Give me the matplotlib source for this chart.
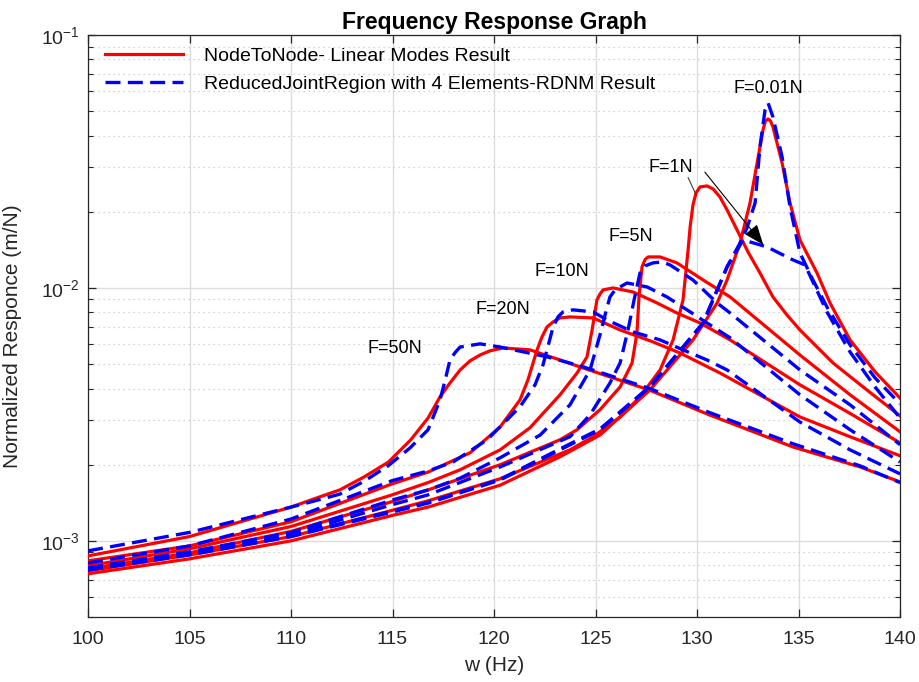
import numpy as np
import matplotlib
matplotlib.use("Agg")
import matplotlib.pyplot as plt
from matplotlib.ticker import LogLocator, NullFormatter, FixedLocator

plt.rcParams['font.family'] = ['Liberation Sans', 'DejaVu Sans']

# Frequency response curves, frequency in Hz, response in 1e-3 m/N
# ---- NodeToNode (linear modes) ----
red_f50_w = [100.0, 105.0, 110.0, 111.18, 112.4, 113.6, 114.8, 115.9, 116.75, 117.34, 117.83,
             118.33, 118.82, 119.31, 119.8, 120.44, 121.77, 123.25, 124.24, 127.64, 130.6,
             134.73, 138.03, 140.0]
red_f50_r = [0.872, 1.04, 1.36, 1.47, 1.59, 1.79, 2.05, 2.51, 3.06, 3.71, 4.21,
             4.74, 5.15, 5.43, 5.64, 5.79, 5.69, 5.19, 4.87, 3.95, 3.15,
             2.35, 1.96, 1.71]

red_f20_w = [100.0, 105.0, 110.0, 114.98, 116.75, 118.82, 120.3, 121.28, 121.67, 122.12,
             122.36, 122.61, 122.91, 123.25, 123.74, 124.88, 126.21, 127.83, 129.16, 131.13,
             135.07, 137.54, 140.0]
red_f20_r = [0.834, 0.955, 1.19, 1.68, 1.87, 2.23, 2.82, 3.61, 4.33, 5.69,
             6.40, 7.01, 7.34, 7.61, 7.68, 7.61, 6.82, 6.12, 5.53, 4.61,
             3.09, 2.58, 2.17]

red_f10_w = [100.0, 105.0, 110.0, 114.98, 116.75, 118.33, 120.3, 121.77, 123.25, 124.09, 124.58,
             124.83, 125.07, 125.22, 125.37, 125.86, 126.85, 128.03, 129.01, 130.15, 131.63,
             135.07, 137.54, 140.0]
red_f10_r = [0.797, 0.930, 1.14, 1.52, 1.70, 1.91, 2.29, 2.80, 3.78, 4.61, 5.34,
             6.82, 8.97, 9.46, 9.82, 10.0, 9.64, 8.72, 7.96, 7.27, 6.23,
             4.14, 3.19, 2.44]

red_f5_w = [100.0, 105.0, 110.0, 114.98, 116.75, 120.3, 123.25, 124.09, 125.22, 126.21, 126.8,
            127.04, 127.14, 127.29, 127.44, 127.59, 128.18, 129.01, 130.3, 131.63, 135.07,
            137.54, 140.0]
red_f5_r = [0.775, 0.897, 1.09, 1.43, 1.59, 2.00, 2.51, 2.75, 3.30, 4.06, 5.05,
            6.64, 9.21, 12.11, 12.95, 13.26, 13.26, 12.56, 10.75, 9.21, 5.43,
            3.78, 2.70]

red_f1_w = [100.0, 105.0, 110.0, 114.98, 116.75, 120.3, 123.74, 124.88, 126.21, 127.19, 128.18,
            128.82, 129.31, 129.56, 129.66, 129.8, 129.95, 130.15, 130.49, 130.79, 131.13,
            131.48, 131.97, 132.51, 133.1, 133.74, 134.43, 135.07, 136.7, 138.37, 140.0]
red_f1_r = [0.761, 0.880, 1.04, 1.32, 1.44, 1.76, 2.29, 2.58, 3.09, 3.71, 4.74,
            6.23, 8.97, 14.14, 17.42, 21.29, 23.74, 25.08, 25.31, 24.62, 22.88,
            20.34, 16.96, 13.88, 11.46, 9.21, 7.82, 6.82, 5.05, 3.95, 3.12]

red_f001_w = [100.0, 105.0, 110.0, 114.98, 116.75, 120.3, 123.25, 125.22, 127.68, 129.8, 130.99,
              131.48, 132.12, 132.61, 132.96, 133.25, 133.37, 133.5, 133.62, 133.74, 134.19,
              134.58, 135.07, 135.91, 136.55, 137.54, 138.77, 140.0]
red_f001_r = [0.741, 0.849, 1.00, 1.26, 1.36, 1.66, 2.15, 2.62, 3.95, 6.23, 8.72,
              10.75, 15.06, 21.68, 31.20, 42.12, 45.7, 46.56, 45.7, 43.29, 31.20,
              21.68, 15.48, 11.46, 8.72, 6.23, 4.66, 3.67]

# ---- ReducedJointRegion, 4 elements (RDNM) ----
blue_f50_w = [100.0, 105.0, 110.0, 111.18, 112.4, 113.6, 114.78, 115.86, 116.75, 117.34, 117.6,
              117.83, 118.08, 118.33, 119.31, 120.3, 122.61, 124.24, 127.68, 130.64, 134.73,
              138.03, 140.0]
blue_f50_r = [0.913, 1.08, 1.36, 1.44, 1.53, 1.72, 1.98, 2.33, 2.75, 3.61, 4.35,
              5.19, 5.55, 5.84, 6.01, 5.84, 5.34, 4.92, 4.0, 3.21, 2.42,
              1.98, 1.70]

blue_f20_w = [100.0, 105.0, 110.0, 114.98, 116.75, 117.98, 119.66, 121.28, 122.02, 122.41, 122.61,
              122.91, 123.15, 123.4, 123.89, 124.88, 125.57, 126.85, 128.18, 129.31, 130.49,
              131.48, 135.07, 137.54, 140.0]
blue_f20_r = [0.818, 0.955, 1.22, 1.73, 1.89, 2.05, 2.51, 3.39, 4.14, 4.96, 5.69,
              7.01, 7.68, 8.04, 8.19, 8.04, 7.47, 6.70, 6.23, 5.69, 5.19,
              4.74, 2.95, 2.29, 1.84]

blue_f10_w = [100.0, 105.0, 110.0, 114.98, 116.75, 118.33, 120.3, 122.27, 123.74, 124.73, 125.22,
              125.47, 125.71, 125.96, 126.21, 126.55, 127.54, 128.52, 129.66, 130.49, 131.63,
              135.07, 137.54, 140.0]
blue_f10_r = [0.782, 0.905, 1.08, 1.45, 1.59, 1.77, 2.13, 2.62, 3.45, 4.74, 6.52,
              7.82, 9.21, 9.82, 10.09, 10.46, 10.09, 9.21, 8.04, 7.27, 6.35,
              3.78, 2.75, 2.05]

blue_f5_w = [100.0, 105.0, 110.0, 114.98, 116.75, 120.3, 123.74, 124.73, 125.71, 126.21, 126.6,
             126.9, 127.19, 127.44, 127.83, 128.28, 128.67, 129.8, 130.99, 131.63, 135.07,
             137.54, 140.0]
blue_f5_r = [0.768, 0.889, 1.06, 1.39, 1.52, 1.96, 2.58, 3.15, 4.21, 5.05, 6.82,
             8.97, 11.46, 12.22, 12.56, 12.67, 12.33, 10.75, 8.72, 7.96, 4.74,
             3.45, 2.40]

blue_f1_w = [100.0, 105.0, 110.0, 114.98, 116.75, 120.3, 123.25, 125.22, 127.68, 130.3, 131.48,
             132.27, 133.45, 134.73, 135.32, 135.71, 136.4, 137.54, 138.77, 140.0]
blue_f1_r = [0.775, 0.889, 1.05, 1.31, 1.42, 1.75, 2.31, 2.77, 4.08, 7.27, 12.11,
             15.48, 14.52, 12.90, 12.33, 10.56, 8.04, 5.58, 4.06, 3.06]

blue_f001_w = [100.0, 105.0, 110.0, 114.98, 116.75, 120.3, 123.25, 125.22, 127.68, 130.3, 131.48,
               132.12, 132.46, 132.86, 133.1, 133.35, 133.5, 133.74, 134.19, 134.58, 135.07,
               135.71, 136.4, 137.54, 138.77, 140.0]
blue_f001_r = [0.768, 0.880, 1.04, 1.30, 1.41, 1.74, 2.29, 2.75, 4.06, 7.27, 12.11,
               15.06, 17.27, 21.68, 36.08, 50.53, 53.85, 47.42, 32.95, 20.90, 13.75,
               10.75, 8.41, 5.95, 4.41, 3.48]

red_curves = [(red_f001_w, red_f001_r), (red_f1_w, red_f1_r), (red_f5_w, red_f5_r),
              (red_f10_w, red_f10_r), (red_f20_w, red_f20_r), (red_f50_w, red_f50_r)]
blue_curves = [(blue_f001_w, blue_f001_r), (blue_f1_w, blue_f1_r), (blue_f5_w, blue_f5_r),
               (blue_f10_w, blue_f10_r), (blue_f20_w, blue_f20_r), (blue_f50_w, blue_f50_r)]

force_labels = ['F=0.01N', 'F=1N', 'F=5N', 'F=10N', 'F=20N', 'F=50N']
label_w = [133.5, 128.72, 126.75, 123.35, 120.44, 115.12]
label_r = [61.2, 29.8, 15.9, 11.57, 8.18, 5.74]

x_ticks = [100, 105, 110, 115, 120, 125, 130, 135, 140]

fig = plt.figure(figsize=(9.2, 6.82), dpi=100)
ax = fig.add_axes([0.0957, 0.0953, 0.8826, 0.8534])

axis_col = '#262626'
for i, (w, r) in enumerate(red_curves):
    ax.plot(w, np.array(r) * 1e-3, color='#ff0000', lw=2.3, solid_joinstyle='round',
            label='NodeToNode- Linear Modes Result' if i == 0 else None, zorder=3)
for i, (w, r) in enumerate(blue_curves):
    ax.plot(w, np.array(r) * 1e-3, color='#0000ff', lw=2.4, ls=(0, (4.5, 2.2)),
            label='ReducedJointRegion with 4 Elements-RDNM Result' if i == 0 else None, zorder=4)

ax.set_yscale('log')
ax.set_xlim(100, 140)
ax.set_ylim(5e-4, 1e-1)
ax.xaxis.set_major_locator(FixedLocator(x_ticks))
ax.yaxis.set_major_locator(LogLocator(base=10, numticks=10))
ax.yaxis.set_minor_locator(LogLocator(base=10, subs=np.arange(2, 10), numticks=20))
ax.yaxis.set_minor_formatter(NullFormatter())

ax.grid(True, which='major', color='#dcdcdc', lw=1.0, ls='-')
ax.grid(True, which='minor', axis='y', color='#c8c8c8', lw=0.9, ls=(0, (1, 3)))
ax.set_axisbelow(True)

ax.tick_params(which='both', direction='in', top=True, right=True, colors=axis_col,
               labelsize=14, labelcolor=axis_col)
ax.tick_params(axis='x', which='major', pad=10)
ax.tick_params(axis='y', which='major', pad=6)
ax.tick_params(which='major', length=6, width=0.9)
ax.tick_params(which='minor', length=3.5, width=0.8)
for s in ax.spines.values():
    s.set_color(axis_col)
    s.set_linewidth(0.9)

ax.set_xlabel('w (Hz)', fontsize=15, color=axis_col, labelpad=6)
ax.set_ylabel('Normalized Responce (m/N)', fontsize=15, color=axis_col)
ax.yaxis.set_label_coords(-0.0813, 0.483)
ax.set_title('Frequency Response Graph', fontsize=16.5, fontweight='bold', color='black', pad=4)

for txt, w, r in zip(force_labels, label_w, label_r):
    ax.text(w, r * 1e-3, txt, fontsize=13, ha='center', va='center', color='black', zorder=6)

# Pointers from the F=1N label
ax.annotate('', xy=(130.0, 0.0229), xytext=(129.5, 0.02797),
            arrowprops=dict(arrowstyle='-', color='#404040', lw=0.8), zorder=6)
ax.annotate('', xy=(133.35, 0.01452), xytext=(130.3, 0.02927),
            arrowprops=dict(arrowstyle='-|>,head_length=0.9,head_width=0.35', color='black',
                            lw=0.8, mutation_scale=14), zorder=6)

ax.legend(loc='upper left', bbox_to_anchor=(0.0209, 0.979), frameon=False, fontsize=14,
          handlelength=4.0, handletextpad=1.1, labelspacing=0.55, borderaxespad=0, borderpad=0)

fig.savefig('out.png', dpi=100)
